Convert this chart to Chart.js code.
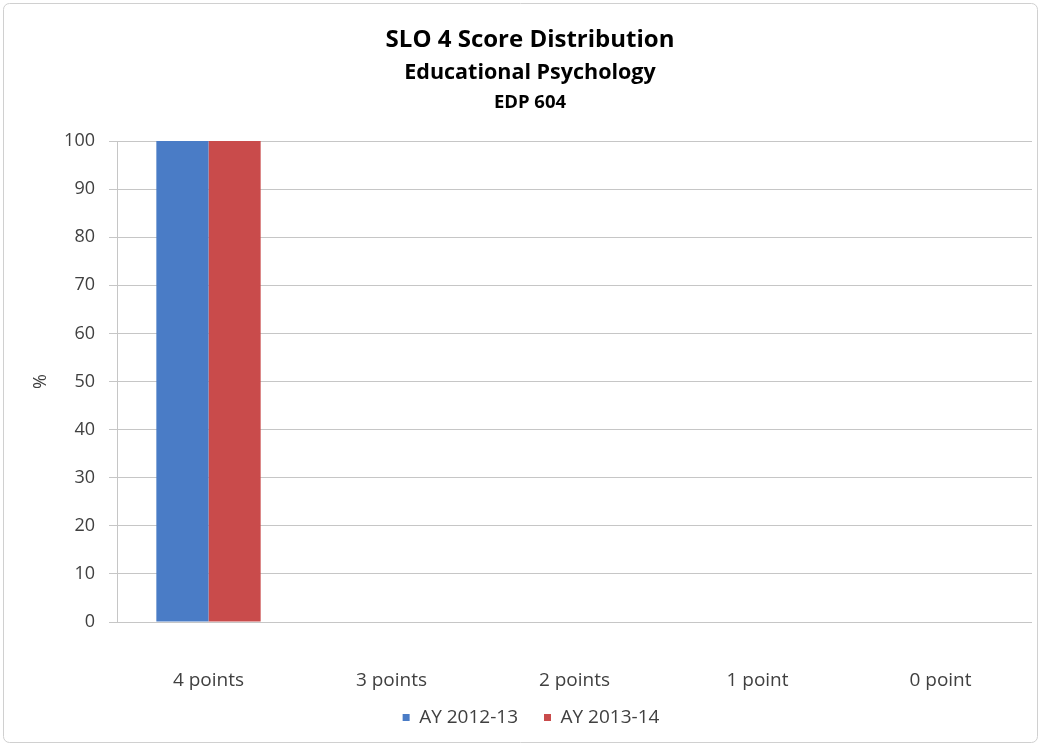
<!DOCTYPE html>
<html>
<head>
<meta charset="utf-8">
<script src="https://cdn.jsdelivr.net/npm/chart.js@4"></script>
<style>
html,body{margin:0;padding:0;background:#fff;}
#wrap{width:1042px;height:747px;position:relative;}
</style>
</head>
<body>
<div id="wrap"><canvas id="c" width="1042" height="747"></canvas></div>
<script>
const categories = ["4 points", "3 points", "2 points", "1 point", "0 point"];
const seriesNames = ["AY 2012-13", "AY 2013-14"];
const values2012 = [100, 0, 0, 0, 0];
const values2013 = [100, 0, 0, 0, 0];
const titleLines = ["SLO 4 Score Distribution", "Educational Psychology", "EDP 604"];
const yTicks = [0, 10, 20, 30, 40, 50, 60, 70, 80, 90, 100];

const FONT = "'Open Sans', Lato, sans-serif";

const legendHeight = {
  id: 'legendHeight',
  beforeInit(chart) {
    const lg = chart.legend;
    const orig = lg.fit;
    lg.fit = function () { orig.call(this); this.height = 54; };
  },
  afterLayout(chart) {
    const lg = chart.legend;
    lg.top -= 11;
    lg.bottom -= 11;
  }
};

const decor = {
  id: 'decor',
  beforeDraw(chart) {
    const ctx = chart.ctx;
    ctx.save();
    ctx.fillStyle = '#fff';
    ctx.fillRect(0, 0, chart.width, chart.height);
    ctx.strokeStyle = '#d0d0d0';
    ctx.lineWidth = 1;
    const r = 6, x = 3.5, y = 3.5, w = chart.width - 8, h = chart.height - 8;
    ctx.beginPath();
    ctx.moveTo(x + r, y);
    ctx.arcTo(x + w, y, x + w, y + h, r);
    ctx.arcTo(x + w, y + h, x, y + h, r);
    ctx.arcTo(x, y + h, x, y, r);
    ctx.arcTo(x, y, x + w, y, r);
    ctx.closePath();
    ctx.stroke();
    ctx.restore();
  },
  afterDraw(chart) {
    const ctx = chart.ctx;
    ctx.save();
    ctx.fillStyle = '#000';
    ctx.textAlign = 'center';
    ctx.textBaseline = 'middle';
    const cx = 530;
    ctx.font = "bold 24px " + FONT;
    ctx.fillText(titleLines[0], cx, 40);
    ctx.font = "bold 21.5px " + FONT;
    ctx.fillText(titleLines[1], cx, 73);
    ctx.font = "bold 18.5px " + FONT;
    ctx.fillText(titleLines[2], cx, 103);
    ctx.restore();
  }
};

new Chart(document.getElementById('c'), {
  type: 'bar',
  data: {
    labels: categories,
    datasets: [
      { label: seriesNames[0], data: values2012, backgroundColor: '#4A7CC6', borderWidth: 0 },
      { label: seriesNames[1], data: values2013, backgroundColor: '#C94B4B', borderWidth: 0 }
    ]
  },
  options: {
    responsive: false,
    animation: false,
    devicePixelRatio: 1,
    categoryPercentage: 0.57,
    barPercentage: 1.0,
    layout: { padding: { top: 141, left: 30, right: 10, bottom: 0 } },
    plugins: {
      title: { display: false },
      tooltip: { enabled: false },
      legend: {
        position: 'bottom',
        labels: {
          usePointStyle: true,
          pointStyle: 'rect',
          boxWidth: 7,
          boxHeight: 7,
          padding: 26,
          color: '#404040',
          font: { family: FONT, size: 19 }
        }
      }
    },
    scales: {
      x: {
        grid: { display: false },
        border: { display: false },
        afterFit(scale) { scale.height = 71; },
        ticks: { color: '#404040', padding: 39, font: { family: FONT, size: 19 } }
      },
      y: {
        min: 0,
        max: 100,
        afterBuildTicks(scale) { scale.ticks = yTicks.map(v => ({ value: v })); },
        afterFit(scale) { scale.width = 87; },
        grid: { color: '#c6c6c6', tickLength: 8, lineWidth: 1 },
        border: { display: true, color: '#c6c6c6' },
        ticks: { color: '#404040', padding: 14, font: { family: FONT, size: 18 } },
        title: { display: true, text: '%', color: '#404040', font: { family: FONT, size: 18 }, padding: 0 }
      }
    }
  },
  plugins: [legendHeight, decor]
});
</script>
</body>
</html>
